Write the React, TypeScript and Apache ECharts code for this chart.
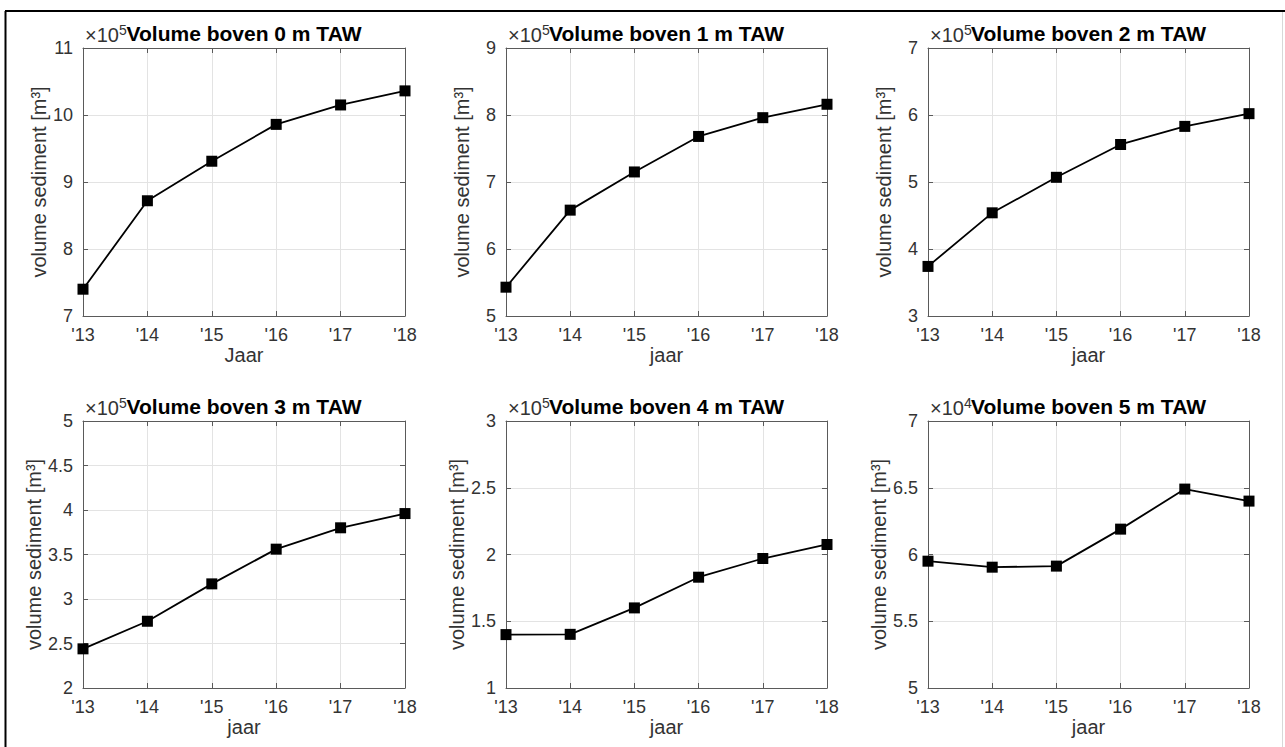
import React, { useEffect, useRef } from "react";
import * as echarts from "echarts";

const years = ["'13", "'14", "'15", "'16", "'17", "'18"];
const titles = [
  "Volume boven 0 m TAW",
  "Volume boven 1 m TAW",
  "Volume boven 2 m TAW",
  "Volume boven 3 m TAW",
  "Volume boven 4 m TAW",
  "Volume boven 5 m TAW",
];
const xNames = ["Jaar", "jaar", "jaar", "jaar", "jaar", "jaar"];
const yName = "volume sediment [m³]";

const vol0 = [740000, 872000, 931000, 986000, 1015000, 1036000];
const vol1 = [543000, 658000, 715000, 768000, 796000, 816000];
const vol2 = [374000, 454000, 507000, 556000, 583000, 602000];
const vol3 = [244000, 275000, 317000, 356000, 380000, 396000];
const vol4 = [140000, 140200, 160000, 183000, 197000, 207500];
const vol5 = [59500, 59050, 59130, 61900, 64900, 64000];
const allSeries = [vol0, vol1, vol2, vol3, vol4, vol5];

const yMin = [700000, 500000, 300000, 200000, 100000, 50000];
const yMax = [1100000, 900000, 700000, 500000, 300000, 70000];
const yStep = [100000, 100000, 100000, 50000, 50000, 5000];
const yExp = [5, 5, 5, 5, 5, 4];

const FONT = "'Liberation Sans', Arial, Helvetica, sans-serif";
const TXT = "#333333";
const AX = "#5a5a5a";
const GRIDC = "#e3e3e3";

const lefts = [83, 506, 928];
const widths = [322, 321, 321];
const tops = [48, 421];
const heights = [268, 267];

export default function App() {
  const ref = useRef<HTMLDivElement>(null);
  useEffect(() => {
    if (!ref.current) return;
    const chart = echarts.init(ref.current, undefined, { renderer: "svg" });
    const grid: any[] = [];
    const xAxis: any[] = [];
    const yAxis: any[] = [];
    const series: any[] = [];
    const graphic: any[] = [];

    for (let i = 0; i < 6; i++) {
      const r = Math.floor(i / 3);
      const c = i % 3;
      const left = lefts[c];
      const top = tops[r];
      const w = widths[c];
      const h = heights[r];
      grid.push({ left, top, width: w, height: h, containLabel: false });
      const div = Math.pow(10, yExp[i]);
      const tickCommon = { show: true, inside: true, length: 5, lineStyle: { color: AX, width: 1 } };
      const lineCommon = { show: true, onZero: false, lineStyle: { color: AX, width: 1 } };
      xAxis.push({
        type: "category",
        gridIndex: i,
        data: years,
        boundaryGap: false,
        position: "bottom",
        axisLine: lineCommon,
        axisTick: { ...tickCommon, interval: 0, alignWithLabel: true },
        axisLabel: { interval: 0, color: TXT, fontSize: 18, fontFamily: FONT, margin: 10 },
        splitLine: { show: true, interval: 0, lineStyle: { color: GRIDC, width: 1 } },
        name: xNames[i],
        nameLocation: "middle",
        nameGap: 29,
        nameTextStyle: { color: TXT, fontSize: 20, fontFamily: FONT },
      });
      xAxis.push({
        type: "category",
        gridIndex: i,
        data: years,
        boundaryGap: false,
        position: "top",
        axisLine: lineCommon,
        axisTick: { ...tickCommon, interval: 0 },
        axisLabel: { show: false },
        splitLine: { show: false },
      });
      yAxis.push({
        type: "value",
        gridIndex: i,
        min: yMin[i],
        max: yMax[i],
        interval: yStep[i],
        position: "left",
        axisLine: lineCommon,
        axisTick: tickCommon,
        axisLabel: {
          color: TXT,
          fontSize: 18,
          fontFamily: FONT,
          margin: 10,
          formatter: (v: number) => String(+(v / div).toFixed(2)),
        },
        splitLine: { show: true, lineStyle: { color: GRIDC, width: 1 } },
        name: yName,
        nameLocation: "middle",
        nameGap: 34,
        nameTextStyle: { color: TXT, fontSize: 20, fontFamily: FONT },
      });
      yAxis.push({
        type: "value",
        gridIndex: i,
        min: yMin[i],
        max: yMax[i],
        interval: yStep[i],
        position: "right",
        axisLine: lineCommon,
        axisTick: tickCommon,
        axisLabel: { show: false },
        splitLine: { show: false },
      });
      series.push({
        type: "line",
        xAxisIndex: 2 * i,
        yAxisIndex: 2 * i,
        data: allSeries[i],
        symbol: "rect",
        symbolSize: 11,
        showSymbol: true,
        lineStyle: { color: "#000", width: 1.8 },
        itemStyle: { color: "#000" },
        z: 5,
      });
      graphic.push({
        type: "text",
        x: left + w / 2,
        y: top - 14.5,
        style: {
          text: titles[i],
          fill: "#000",
          font: `bold 21px ${FONT}`,
          textAlign: "center",
          textVerticalAlign: "middle",
          verticalAlign: "middle",
        },
      });
      graphic.push({
        type: "text",
        x: left + 2,
        y: top - 14.5,
        style: {
          text: `{a|×10}{b|${yExp[i]}}`,
          textAlign: "left",
          verticalAlign: "middle",
          textVerticalAlign: "middle",
          rich: {
            a: { fontSize: 20, fontFamily: FONT, fill: TXT, lineHeight: 22, verticalAlign: "bottom" },
            b: { fontSize: 14, fontFamily: FONT, fill: TXT, lineHeight: 16, verticalAlign: "top" },
          },
        },
      });
    }

    // outer frame
    graphic.push({ type: "line", shape: { x1: 5.5, y1: 11, x2: 5.5, y2: 747 }, style: { stroke: "#000", lineWidth: 2 } });
    graphic.push({ type: "line", shape: { x1: 5, y1: 11, x2: 1285, y2: 11 }, style: { stroke: "#000", lineWidth: 2 } });
    graphic.push({ type: "line", shape: { x1: 1282.5, y1: 12, x2: 1282.5, y2: 747 }, style: { stroke: "#d8d8d8", lineWidth: 1 } });

    chart.setOption({
      animation: false,
      backgroundColor: "#fff",
      grid,
      xAxis,
      yAxis,
      series,
      graphic,
    });
    return () => chart.dispose();
  }, []);
  return (
    <div
      ref={ref}
      style={{ position: "absolute", left: 0, top: 0, width: 1285, height: 747 }}
    />
  );
}
